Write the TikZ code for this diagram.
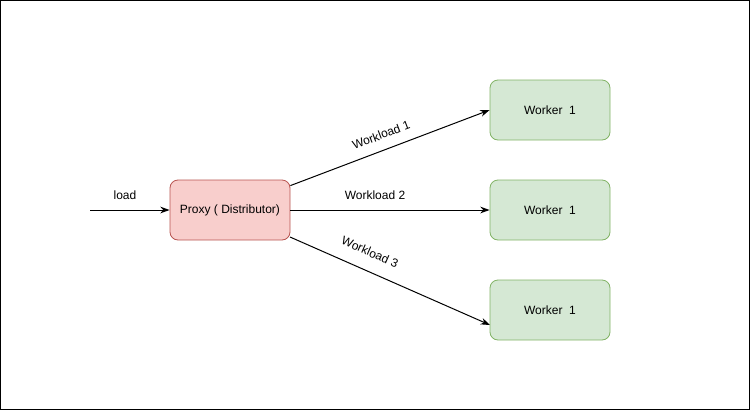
\documentclass[tikz,border=0pt]{standalone}
\usepackage{fontspec}
\setmainfont{Liberation Sans}
\usetikzlibrary{arrows.meta}
\definecolor{proxyfill}{HTML}{F8CECC}
\definecolor{proxydraw}{HTML}{B85450}
\definecolor{workfill}{HTML}{D5E8D4}
\definecolor{workdraw}{HTML}{82B366}
\begin{document}
\begin{tikzpicture}[x=0.75pt,y=-0.75pt,
  box/.style={rectangle,rounded corners=6pt,minimum width=90pt,minimum height=45pt,inner sep=0pt,font=\fontsize{9}{11}\selectfont,line width=0.6pt},
  proxybox/.style={box,fill=proxyfill,draw=proxydraw},
  workbox/.style={box,fill=workfill,draw=workdraw},
  conn/.style={-{Stealth[length=7pt,width=5pt]},line width=0.75pt},
  lbl/.style={font=\fontsize{9}{11}\selectfont,inner sep=0pt}]
\draw[line width=0.9pt] (0.6,0.6) rectangle (749.5,409.5);
\useasboundingbox (0,0) rectangle (751,411);
\node[proxybox] (proxy) at (230,210) {Proxy ( Distributor)};
\node[workbox] (w1) at (550,110) {Worker\ \ 1};
\node[workbox] (w2) at (550,210) {Worker\ \ 1};
\node[workbox] (w3) at (550,310) {Worker\ \ 1};
\coordinate (src) at (90,210);
\draw[conn] (src) -- (proxy.west);
\node[lbl] (lload) at (125,195) {load};
\draw[conn] (proxy.north east) ++(0,6) coordinate (p1) -- (w1.west);
\draw[conn] (proxy.east) -- (w2.west);
\coordinate (p3) at (290,237);
\coordinate (e3) at (490,325);
\draw[conn] (p3) -- (e3);
\node[lbl,rotate=20.8] (l1) at (381,135) {Workload 1};
\node[lbl] (l2) at (375,195) {Workload 2};
\node[lbl,rotate=-23.7] (l3) at (370,252) {Workload 3};
\end{tikzpicture}
\end{document}
